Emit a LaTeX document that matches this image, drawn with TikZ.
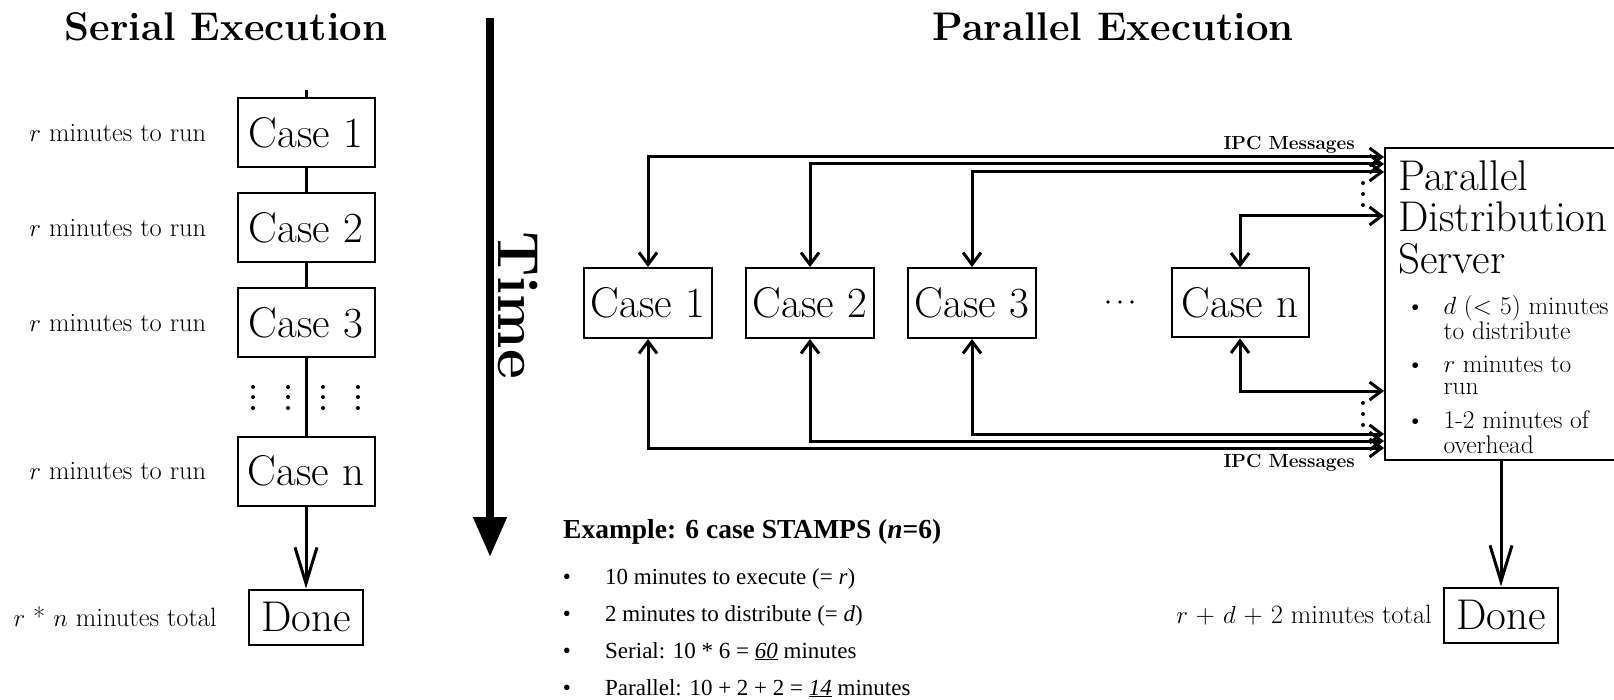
\documentclass[tikz,border=0pt]{standalone}
\usepackage{fontspec}
\newfontfamily\exfont{Liberation Serif}
\usetikzlibrary{positioning,arrows.meta}

\begin{document}
\begin{tikzpicture}[x=1pt, y=-1pt,
    casebox/.style={draw, line width=2pt, minimum width=137pt, minimum height=69pt, inner sep=0pt, font=\fontsize{43}{48}\selectfont},
    donebox/.style={casebox, minimum width=114pt, minimum height=55pt},
    sidelabel/.style={inner sep=0pt, font=\fontsize{26.5}{30}\selectfont},
    headline/.style={font=\bfseries\fontsize{40}{46}\selectfont},
    servertext/.style={anchor=base west, inner sep=0pt, font=\fontsize{43}{48}\selectfont},
    srvitem/.style={anchor=base west, inner sep=0pt, font=\fontsize{25.5}{22}\selectfont},
    ipclabel/.style={anchor=base east, inner sep=0pt, font=\bfseries\fontsize{19}{22}\selectfont},
    exitem/.style={anchor=base west, inner sep=0pt, font=\exfont\fontsize{23}{27}\selectfont},
    wire/.style={line width=3pt},
    donearrow/.style={line width=3pt, -{Straight Barb[length=36pt,width=22pt]}},
    ipc/.style={line width=3pt, {Straight Barb[length=12pt,width=18pt]}-{Straight Barb[length=12pt,width=18pt]}},
]

    % パラメータの定義
    \pgfmathsetmacro{\sx}{306}
    \pgfmathsetmacro{\py}{303}

    \useasboundingbox (0,0) rectangle (1614,700);

    % 見出し
    \node[headline] (sertitle) at (226,27) {Serial Execution};
    \node[headline] (partitle) at (1113,27) {Parallel Execution};

    % 直列実行
    \node[casebox] (s1) at (\sx,133) {Case 1};
    \node[casebox] (s2) at (\sx,228) {Case 2};
    \node[casebox] (s3) at (\sx,323) {Case 3};
    \node[casebox] (sn) at (\sx,471) {Case n};
    \node[donebox] (sdone) at (\sx,617) {Done};

    \node[sidelabel, left=30pt of s1] (l1) {$r$ minutes to run};
    \node[sidelabel, left=30pt of s2] (l2) {$r$ minutes to run};
    \node[sidelabel, left=30pt of s3] (l3) {$r$ minutes to run};
    \node[sidelabel, left=30pt of sn] (ln) {$r$ minutes to run};
    \node[sidelabel, left=31pt of sdone] (ltotal) {$r$ * $n$ minutes total};

    \coordinate (stop) at (\sx,90);
    \draw[wire] (stop) -- (s1);
    \draw[wire] (s1) -- (s2);
    \draw[wire] (s2) -- (s3);
    \draw[wire] (s3) -- (sn);
    \draw[donearrow] (sn) -- (sdone);

    \foreach \dx in {253,288,323,358}
        \foreach \dy in {387,397,408}
            \fill (\dx,\dy) circle (2pt);

    % 時間軸
    \coordinate (ttop) at (490,18);
    \coordinate (tbot) at (490,557);
    \draw[line width=8pt, -{Triangle[length=40pt,width=32pt]}] (ttop) -- (tbot);
    \node[rotate=-90, font=\bfseries\fontsize{58}{62}\selectfont] (timelabel) at (518,305) {Time};

    % 並列実行
    \node[casebox, minimum width=128pt, minimum height=70pt] (p1) at (648,\py) {Case 1};
    \node[casebox, minimum width=128pt, minimum height=70pt] (p2) at (810,\py) {Case 2};
    \node[casebox, minimum width=128pt, minimum height=70pt] (p3) at (972,\py) {Case 3};
    \node[casebox] (pn) at (1240,\py) {Case n};

    \foreach \dx in {1108,1120,1132}
        \fill (\dx,302) circle (1.8pt);

    \node[draw, line width=2pt, minimum width=300pt, minimum height=312pt, inner sep=0pt, anchor=north west] (server) at (1384,147) {};

    \node[servertext] (srv1) at (1398,191) {Parallel};
    \node[servertext] (srv2) at (1398,232) {Distribution};
    \node[servertext] (srv3) at (1398,274) {Server};

    \node[srvitem] (items) at (1406,315) {%
        \begin{tabular}[t]{@{}l@{\hspace{19pt}}l@{}}
            \textbullet & $d$ (< 5) minutes\\
                        & to distribute\\[10pt]
            \textbullet & $r$ minutes to\\
                        & run\\[10pt]
            \textbullet & 1-2 minutes of\\
                        & overhead
        \end{tabular}};

    % IPC の矢印
    \draw[ipc] ([yshift=147pt]server.west) -| (p1.north);
    \draw[ipc] ([yshift=140pt]server.west) -| (p2.north);
    \draw[ipc] ([yshift=132pt]server.west) -| (p3.north);
    \draw[ipc] ([yshift=88pt]server.west) -| (pn.north);
    \draw[ipc] ([yshift=-87pt]server.west) -| (pn.south);
    \draw[ipc] ([yshift=-130pt]server.west) -| (p3.south);
    \draw[ipc] ([yshift=-137pt]server.west) -| (p2.south);
    \draw[ipc] ([yshift=-144pt]server.west) -| (p1.south);

    \foreach \dy in {183,194,205,403,414,425}
        \fill (1363,\dy) circle (2pt);

    \node[ipclabel] (ipctop) at (1355,150) {IPC Messages};
    \node[ipclabel] (ipcbot) at (1355,467) {IPC Messages};

    \node[donebox] (pdone) at (1501,615) {Done};
    \node[sidelabel, left=11pt of pdone] (ptotal) {$r$ + $d$ + 2 minutes total};
    \draw[donearrow] (pdone.north |- server.south) -- (pdone.north);

    % 例
    \node[anchor=base west, inner sep=0pt, font=\exfont\bfseries\fontsize{27.5}{32}\selectfont] (extitle) at (563,538) {Example: 6 case STAMPS (\textit{n}=6)};
    \foreach \txt [count=\i] in {{10 minutes to execute (= \textit{r})}, {2 minutes to distribute (= \textit{d})}, {Serial: 10 * 6 = \underline{\textit{60}} minutes}, {Parallel: 10 + 2 + 2 = \underline{\textit{14}} minutes}} {
        \node[exitem] (ex\i) at (605,547+37*\i) {\txt};
        \node[exitem, anchor=base] (exb\i) at (567,547+37*\i) {\textbullet};
    }

\end{tikzpicture}
\end{document}
